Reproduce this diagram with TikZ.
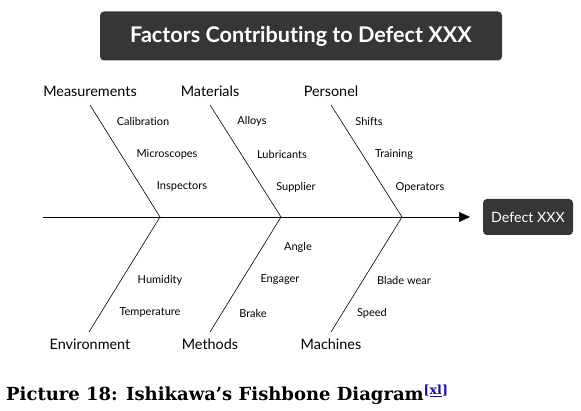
\documentclass[tikz,border=0pt]{standalone}
\usepackage{fontspec}
\setmainfont{Lato}[Ligatures=NoCommon]
\newfontfamily\capfont{DejaVu Serif}
\usetikzlibrary{arrows.meta}

\definecolor{boxgray}{HTML}{363636}
\definecolor{linkblue}{HTML}{1A0DAB}

\begin{document}
\begin{tikzpicture}[x=1pt,y=-1pt,
  bone/.style={draw=black, line width=0.6pt},
  cause/.style={font=\fontsize{14.4}{16}\selectfont},
  sub/.style={font=\fontsize{11}{13}\selectfont},
  darkbox/.style={fill=boxgray, text=white, rounded corners=4pt, inner sep=0pt}]
  \useasboundingbox (0,0) rectangle (581,411);

  % title and effect
  \node[darkbox, minimum width=402pt, minimum height=49pt, font=\fontsize{21.6}{25}\selectfont\bfseries] (title) at (301,36) {Factors Contributing to Defect XXX};
  \node[darkbox, minimum width=90pt, minimum height=36pt, font=\fontsize{14.2}{16}\selectfont] (defect) at (528,217) {Defect XXX};

  % spine
  \coordinate (tail) at (43,217);
  \coordinate (head) at (470,217);
  \draw[bone, -{Triangle[length=11pt,width=10pt]}] (tail) -- (head);

  % joints on the spine
  \coordinate (j1) at (160,217);
  \coordinate (j2) at (281,217);
  \coordinate (j3) at (402,217);

  % upper causes
  \node[cause] (meas) at (90,91) {Measurements};
  \node[cause] (mat) at (210,91) {Materials};
  \node[cause] (pers) at (331,91) {Personel};
  \coordinate (m1) at (90,105);
  \coordinate (m2) at (210,105);
  \coordinate (m3) at (331,105);
  \draw[bone] (m1) -- (j1);
  \draw[bone] (m2) -- (j2);
  \draw[bone] (m3) -- (j3);

  % lower causes
  \node[cause] (env) at (90,344) {Environment};
  \node[cause] (meth) at (210,344) {Methods};
  \node[cause] (mach) at (331,344) {Machines};
  \coordinate (e1) at (89,332);
  \coordinate (e2) at (210,332);
  \coordinate (e3) at (331,332);
  \draw[bone] (j1) -- (e1);
  \draw[bone] (j2) -- (e2);
  \draw[bone] (j3) -- (e3);

  % sub causes
  \node[sub] (calib) at (143,121) {Calibration};
  \node[sub] (micro) at (167,154) {Microscopes};
  \node[sub] (insp) at (182,187) {Inspectors};
  \node[sub] (alloy) at (252,121) {Alloys};
  \node[sub] (lubr) at (282,154) {Lubricants};
  \node[sub] (supp) at (296,187) {Supplier};
  \node[sub] (shift) at (369,121) {Shifts};
  \node[sub] (train) at (394,154) {Training};
  \node[sub] (oper) at (420,187) {Operators};
  \node[sub] (humid) at (160,280) {Humidity};
  \node[sub] (temp) at (150,313) {Temperature};
  \node[sub] (angle) at (298,247) {Angle};
  \node[sub] (engag) at (280,280) {Engager};
  \node[sub] (brake) at (253,313) {Brake};
  \node[sub] (blade) at (404,280) {Blade wear};
  \node[sub] (speed) at (372,313) {Speed};

  % caption
  \node[anchor=west, inner sep=0pt, font=\capfont\bfseries\fontsize{18}{21}\selectfont] (cap) at (6,395)
    {Picture 18: Ishikawa’s Fishbone Diagram\textsuperscript{\color{linkblue}[\underline{xl}]}};
\end{tikzpicture}
\end{document}
